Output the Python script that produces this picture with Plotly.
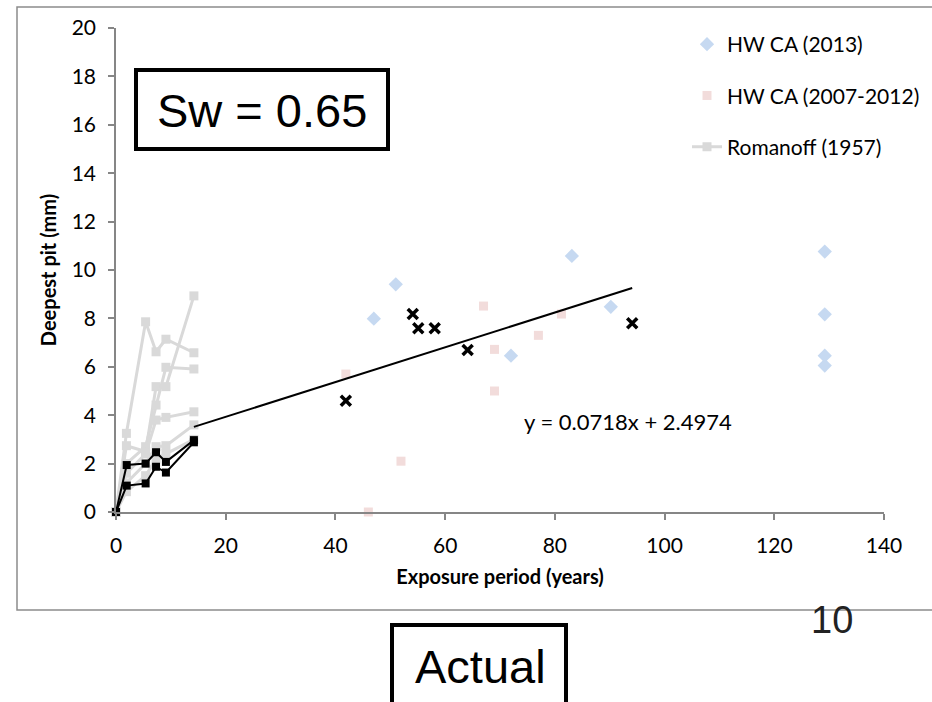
import plotly.graph_objects as go

# ---------------- data ----------------
romanoff_x = [0, 1.9, 5.4, 7.3, 9.1, 14.2]
romanoff_series = [
    [0, 3.25, 7.86, 6.62, 7.14, 6.58],
    [0, 2.74, 2.5, 5.18, 5.18, 8.93],
    [0, 2.0, 2.7, 4.42, 5.98, 5.91],
    [0, 1.6, 2.4, 3.80, 3.91, 4.14],
    [0, 1.2, 2.0, 2.70, 2.74, 3.60],
    [0, 0.84, 1.5, 2.20, 2.40, 3.00],
]
actual_x = [0, 1.95, 5.4, 7.3, 9.1, 14.2]
actual_a = [0, 1.94, 2.00, 2.47, 2.07, 2.97]
actual_b = [0, 1.09, 1.18, 1.87, 1.63, 2.88]

hw2013_x = [47.0, 51.0, 72.0, 83.1, 90.2, 129.2, 129.2, 129.2, 129.2]
hw2013_y = [7.99, 9.41, 6.46, 10.58, 8.48, 10.76, 8.17, 6.46, 6.05]

hw0712_x = [41.9, 46.0, 51.95, 67.0, 69.0, 69.0, 77.0, 81.2]
hw0712_y = [5.70, 0.0, 2.10, 8.51, 6.72, 5.00, 7.30, 8.18]

cross_x = [41.9, 54.1, 55.1, 58.1, 64.1, 94.1]
cross_y = [4.60, 8.18, 7.59, 7.59, 6.69, 7.80]

fit_slope = 0.0718
fit_intercept = 2.4974
fit_x = [14.2, 94.1]
fit_y = [fit_slope * v + fit_intercept for v in fit_x]

x_ticks = [0, 20, 40, 60, 80, 100, 120, 140]
y_ticks = [0, 2, 4, 6, 8, 10, 12, 14, 16, 18, 20]

# ---------------- figure ----------------
GRAY = "#d9d9d9"
BLUE = "#c6d9f1"
PINK = "#f2dcdb"
FONT = "Lato"

L, R, T, B = 116, 48, 28, 190
PW, PH = 932 - L - R, 702 - T - B


def px(xp):
    return (xp - L) / PW


def py(yp):
    return (702 - B - yp) / PH


fig = go.Figure()

for i, ys in enumerate(romanoff_series):
    fig.add_trace(go.Scatter(
        x=romanoff_x, y=ys, mode="lines+markers",
        line=dict(color=GRAY, width=3),
        marker=dict(symbol="square", size=9, color=GRAY),
        name="Romanoff (1957)", showlegend=(i == 0),
        legendgroup="g3", legendrank=3, cliponaxis=False,
    ))

fig.add_trace(go.Scatter(
    x=hw0712_x, y=hw0712_y, mode="markers",
    marker=dict(symbol="square", size=9, color=PINK),
    name="HW CA (2007-2012)", legendgroup="g2", legendrank=2, cliponaxis=False,
))
fig.add_trace(go.Scatter(
    x=hw2013_x, y=hw2013_y, mode="markers",
    marker=dict(symbol="diamond", size=11, color=BLUE),
    name="HW CA (2013)", legendgroup="g1", legendrank=1, cliponaxis=False,
))

for ys in (actual_a, actual_b):
    fig.add_trace(go.Scatter(
        x=actual_x, y=ys, mode="lines+markers",
        line=dict(color="black", width=2),
        marker=dict(symbol="square", size=8, color="black"),
        showlegend=False, cliponaxis=False,
    ))

fig.add_trace(go.Scatter(
    x=fit_x, y=fit_y, mode="lines",
    line=dict(color="black", width=2), showlegend=False,
))
fig.add_trace(go.Scatter(
    x=cross_x, y=cross_y, mode="markers",
    marker=dict(symbol="x-thin", size=10, line=dict(color="black", width=3.5)),
    showlegend=False,
))

fig.add_annotation(
    x=93.3, y=3.72, xref="x", yref="y", showarrow=False,
    xanchor="center", yanchor="middle",
    text=f"y = {fit_slope}x + {fit_intercept}",
    font=dict(family=FONT, size=22, color="black"),
)

# outer chart frame
fig.add_shape(type="rect", xref="paper", yref="paper",
              x0=px(17), x1=px(940), y0=py(610), y1=py(7),
              line=dict(color="#8c8c8c", width=1.5), layer="below")

# Sw box
fig.add_shape(type="rect", xref="paper", yref="paper",
              x0=px(136), x1=px(388), y0=py(149), y1=py(70),
              line=dict(color="black", width=4))
fig.add_annotation(x=px(262), y=py(110), xref="paper", yref="paper",
                   xanchor="center", yanchor="middle",
                   text="Sw = 0.65", showarrow=False,
                   font=dict(family="Liberation Sans", size=47, color="black"))

# Actual box
fig.add_shape(type="rect", xref="paper", yref="paper",
              x0=px(392), x1=px(566), y0=py(712), y1=py(625),
              line=dict(color="black", width=4))
fig.add_annotation(x=px(480), y=py(666), xref="paper", yref="paper",
                   xanchor="center", yanchor="middle",
                   text="Actual", showarrow=False,
                   font=dict(family="Liberation Sans", size=47, color="black"))

fig.add_annotation(x=px(832), y=py(620), xref="paper", yref="paper",
                   xanchor="center", yanchor="middle",
                   text="10", showarrow=False,
                   font=dict(family="Liberation Sans", size=38, color="#222"))

axis_common = dict(
    showgrid=False, zeroline=False, showline=True,
    linecolor="#868686", linewidth=1.5,
    ticks="outside", ticklen=6, tickcolor="#868686", tickwidth=1.5,
    tickfont=dict(family=FONT, size=21, color="black"),
)

fig.update_xaxes(range=[0, 140], tickvals=x_ticks, ticklabelstandoff=8,
                 title=dict(text="<b>Exposure period (years)</b>",
                            font=dict(family=FONT, size=20, color="black"),
                            standoff=14),
                 **axis_common)
fig.update_yaxes(range=[0, 20], tickvals=y_ticks, ticklabelstandoff=8,
                 title=dict(text="<b>Deepest pit (mm)</b>",
                            font=dict(family=FONT, size=20, color="black"),
                            standoff=10),
                 **axis_common)

fig.update_layout(
    width=932, height=702,
    margin=dict(l=L, r=R, t=T, b=B, autoexpand=False),
    paper_bgcolor="white", plot_bgcolor="white",
    showlegend=True,
    legend=dict(x=px(687), y=py(24), xanchor="left", yanchor="top",
                font=dict(family=FONT, size=21, color="black"),
                tracegroupgap=21, bgcolor="rgba(0,0,0,0)", itemwidth=30),
)

fig.write_html("out.html")
